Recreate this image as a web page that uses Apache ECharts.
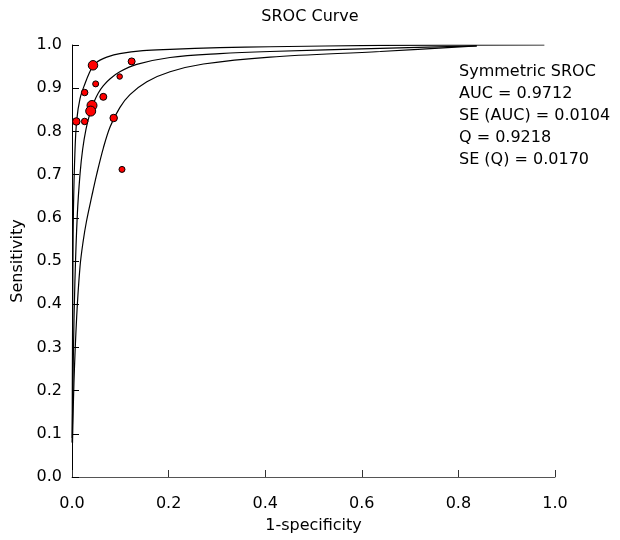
<!DOCTYPE html>
<html>
<head>
<meta charset="utf-8">
<script src="https://cdn.jsdelivr.net/npm/echarts@6/dist/echarts.min.js"></script>
<style>html,body{margin:0;padding:0;background:#fff}#c{width:620px;height:540px}</style>
</head>
<body>
<div id="c"></div>
<script>
// Study points: [1-specificity, sensitivity]
var studyPoints = [
  [0.0435, 0.953], [0.1235, 0.962], [0.049, 0.910], [0.0987, 0.927],
  [0.0262, 0.890], [0.0648, 0.880], [0.0414, 0.860], [0.0387, 0.847],
  [0.0089, 0.823], [0.0262, 0.823], [0.0863, 0.831], [0.1035, 0.712]
];
// relative study weights (marker size)
var studySizes = [9.5, 7, 6, 5.5, 6.5, 7, 10, 10, 7.5, 6.5, 7.5, 6];

// SROC curve and its bounds
var upperCurve = [
  [0.0003, 0.08], [0.001, 0.30], [0.002, 0.50], [0.003, 0.62], [0.006, 0.75],
  [0.0097, 0.825], [0.0166, 0.876], [0.027, 0.911], [0.036, 0.936], [0.0435, 0.951],
  [0.050, 0.959], [0.058, 0.965], [0.072, 0.972], [0.099, 0.980], [0.147, 0.987],
  [0.203, 0.990], [0.306, 0.994], [0.41, 0.996], [0.638, 0.999], [0.978, 1.0]
];
var middleCurve = [
  [0.0005, 0.09], [0.001, 0.13], [0.003, 0.294], [0.006, 0.452], [0.011, 0.607],
  [0.0166, 0.701], [0.022, 0.758], [0.029, 0.805], [0.037, 0.841], [0.0455, 0.868],
  [0.0545, 0.889], [0.065, 0.906], [0.079, 0.922], [0.099, 0.938], [0.134, 0.955],
  [0.203, 0.971], [0.306, 0.980], [0.41, 0.985], [0.638, 0.992], [0.838, 0.998]
];
var lowerCurve = [
  [0.001, 0.079], [0.004, 0.217], [0.0097, 0.371], [0.0166, 0.487], [0.023, 0.545],
  [0.030, 0.592], [0.041, 0.650], [0.051, 0.700], [0.065, 0.762], [0.079, 0.811],
  [0.099, 0.855], [0.120, 0.885], [0.155, 0.915], [0.203, 0.938], [0.272, 0.956],
  [0.41, 0.972], [0.638, 0.985], [0.838, 0.998]
];
var statLines = ['Symmetric SROC', 'AUC = 0.9712', 'SE (AUC) = 0.0104', 'Q = 0.9218', 'SE (Q) = 0.0170'];

var FONT = 'DejaVu Sans';
var chart = echarts.init(document.getElementById('c'), null, {renderer: 'canvas'});

function lineSeries(d) {
  return {
    type: 'line', data: d, smooth: 0.35, symbol: 'none', silent: true,
    lineStyle: {color: '#000', width: 1.2}, z: 2
  };
}

chart.setOption({
  animation: false,
  backgroundColor: '#fff',
  textStyle: {fontFamily: FONT},
  title: {
    text: 'SROC Curve', left: 'center', top: 4,
    textStyle: {fontFamily: FONT, fontSize: 16, fontWeight: 'normal', color: '#000'}
  },
  grid: {left: 72, right: 65, top: 45, bottom: 63, containLabel: false},
  xAxis: {
    type: 'value', min: 0, max: 1, interval: 0.2,
    name: '1-specificity', nameLocation: 'middle', nameGap: 41,
    nameTextStyle: {fontFamily: FONT, fontSize: 16, color: '#000'},
    axisLine: {show: true, lineStyle: {color: '#555', width: 1}},
    axisTick: {show: true, inside: true, length: 7, lineStyle: {color: '#333'}},
    axisLabel: {fontFamily: FONT, fontSize: 16, color: '#000', margin: 19,
      formatter: function (v) { return v.toFixed(1); }},
    splitLine: {show: false}
  },
  yAxis: {
    type: 'value', min: 0, max: 1, interval: 0.1,
    name: 'Sensitivity', nameLocation: 'middle', nameGap: 46,
    nameTextStyle: {fontFamily: FONT, fontSize: 16, color: '#000'},
    axisLine: {show: true, lineStyle: {color: '#000', width: 1}},
    axisTick: {show: true, inside: true, length: 7, lineStyle: {color: '#000'}},
    axisLabel: {fontFamily: FONT, fontSize: 16, color: '#000', margin: 10,
      formatter: function (v) { return v.toFixed(1); }},
    splitLine: {show: false}
  },
  graphic: [{
    type: 'text', left: 459, top: 61, silent: true,
    style: {
      text: statLines.join('\n'), fontFamily: FONT, fontSize: 16,
      lineHeight: 22, fill: '#000'
    }
  }],
  series: [
    lineSeries(upperCurve),
    lineSeries(middleCurve),
    lineSeries(lowerCurve),
    {
      type: 'scatter', z: 5,
      data: studyPoints.map(function (p, i) { return {value: p, symbolSize: studySizes[i]}; }),
      itemStyle: {color: '#ff0000', borderColor: '#000', borderWidth: 1, opacity: 1}
    }
  ]
});
</script>
</body>
</html>
